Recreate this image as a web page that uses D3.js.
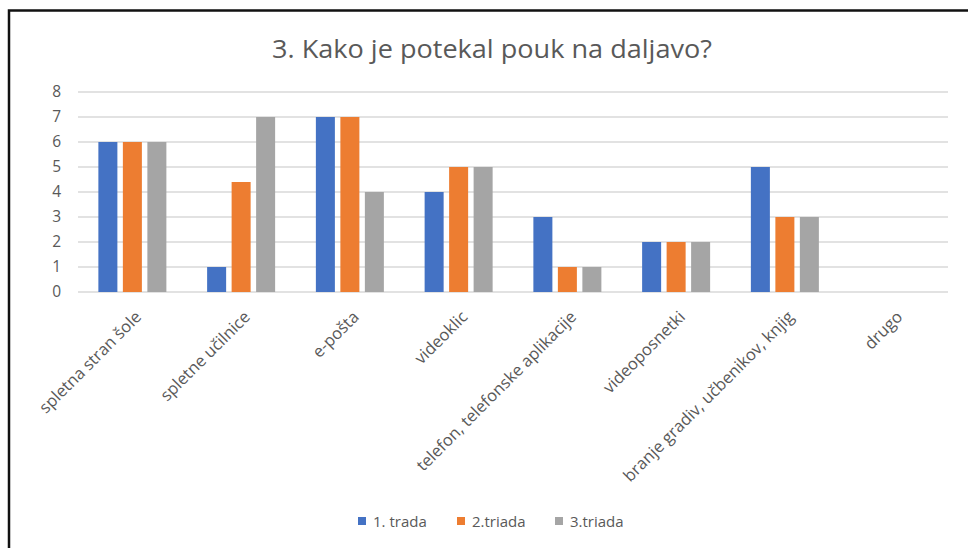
<!DOCTYPE html>
<head>
<meta charset="utf-8">
<title>3. Kako je potekal pouk na daljavo?</title>
<script src="https://d3js.org/d3.v7.min.js"></script>
<style>
body { margin: 0; background: #fff; }
svg { display: block; }
</style>
</head>
<body>
<div id="chart"></div>
<script>
// data
var categories = ["spletna stran šole", "spletne učilnice", "e-pošta", "videoklic",
  "telefon, telefonske aplikacije", "videoposnetki", "branje gradiv, učbenikov, knjig", "drugo"];
var seriesNames = ["1. trada", "2.triada", "3.triada"];
var trada1 = [6, 1, 7, 4, 3, 2, 5, 0];
var triada2 = [6, 4.4, 7, 5, 1, 2, 3, 0];
var triada3 = [6, 7, 4, 5, 1, 2, 3, 0];
var yTicks = [0, 1, 2, 3, 4, 5, 6, 7, 8];
var colors = ["#4472C4", "#ED7D31", "#A5A5A5"];

var series = [trada1, triada2, triada3];

var W = 968, H = 548;
var font = "'Open Sans', sans-serif";

var svg = d3.select("#chart").append("svg")
  .attr("width", W)
  .attr("height", H);

svg.append("rect").attr("width", W).attr("height", H).attr("fill", "#fff");

// frame of the screenshot
svg.append("path")
  .attr("d", "M9," + H + "V10.5H" + W)
  .attr("fill", "none")
  .attr("stroke", "#111")
  .attr("stroke-width", 2.5);

// title
svg.append("text")
  .attr("x", 492)
  .attr("y", 58)
  .attr("text-anchor", "middle")
  .attr("textLength", 440)
  .attr("lengthAdjust", "spacingAndGlyphs")
  .style("font-family", font)
  .style("font-size", "26px")
  .style("fill", "#595959")
  .text("3. Kako je potekal pouk na daljavo?");

// scales
var x0 = d3.scaleBand()
  .domain(categories)
  .range([78, 948]);

var x1 = d3.scaleBand()
  .domain(d3.range(series.length))
  .range([x0.bandwidth() / 2 - 34, x0.bandwidth() / 2 + 34])
  .paddingInner(0.224);

var y = d3.scaleLinear()
  .domain([0, 8])
  .range([292, 92]);

// grid lines
svg.append("g")
  .selectAll("line")
  .data(yTicks)
  .enter().append("line")
    .attr("x1", 78)
    .attr("x2", 948)
    .attr("y1", function(d) { return y(d); })
    .attr("y2", function(d) { return y(d); })
    .attr("stroke", "#d9d9d9")
    .attr("stroke-width", 1.6);

// y axis labels
var yAxis = d3.axisLeft(y)
  .tickValues(yTicks)
  .tickSize(0)
  .tickPadding(0);

svg.append("g")
  .attr("transform", "translate(61,0)")
  .call(yAxis)
  .call(function(g) { g.select(".domain").remove(); })
  .selectAll("text")
    .style("font-family", font)
    .style("font-size", "15.5px")
    .style("fill", "#595959");

// bars
var groups = svg.append("g")
  .selectAll("g")
  .data(categories)
  .enter().append("g")
    .attr("transform", function(d) { return "translate(" + x0(d) + ",0)"; });

groups.selectAll("rect")
  .data(function(d, i) { return series.map(function(s, k) { return {k: k, v: s[i]}; }); })
  .enter().append("rect")
    .attr("x", function(d) { return x1(d.k); })
    .attr("width", x1.bandwidth())
    .attr("y", function(d) { return y(d.v); })
    .attr("height", function(d) { return y(0) - y(d.v); })
    .attr("fill", function(d) { return colors[d.k]; });

// x axis labels, rotated
var xAxis = d3.axisBottom(x0)
  .tickSize(0)
  .tickPadding(0);

svg.append("g")
  .attr("transform", "translate(0,292)")
  .call(xAxis)
  .call(function(g) { g.select(".domain").remove(); })
  .selectAll("text")
    .attr("text-anchor", "end")
    .attr("dy", null)
    .attr("y", null)
    .attr("transform", "translate(10,26) rotate(-45)")
    .style("font-family", font)
    .style("font-size", "16.5px")
    .style("fill", "#595959");

// legend
var legendX = [358, 457, 555];
var legend = svg.append("g")
  .selectAll("g")
  .data(seriesNames)
  .enter().append("g")
    .attr("transform", function(d, i) { return "translate(" + legendX[i] + ",517)"; });

legend.append("rect")
  .attr("width", 8)
  .attr("height", 8)
  .attr("fill", function(d, i) { return colors[i]; });

legend.append("text")
  .attr("x", 15)
  .attr("y", 9.5)
  .style("font-family", font)
  .style("font-size", "15px")
  .style("fill", "#595959")
  .text(function(d) { return d; });
</script>
</body>
